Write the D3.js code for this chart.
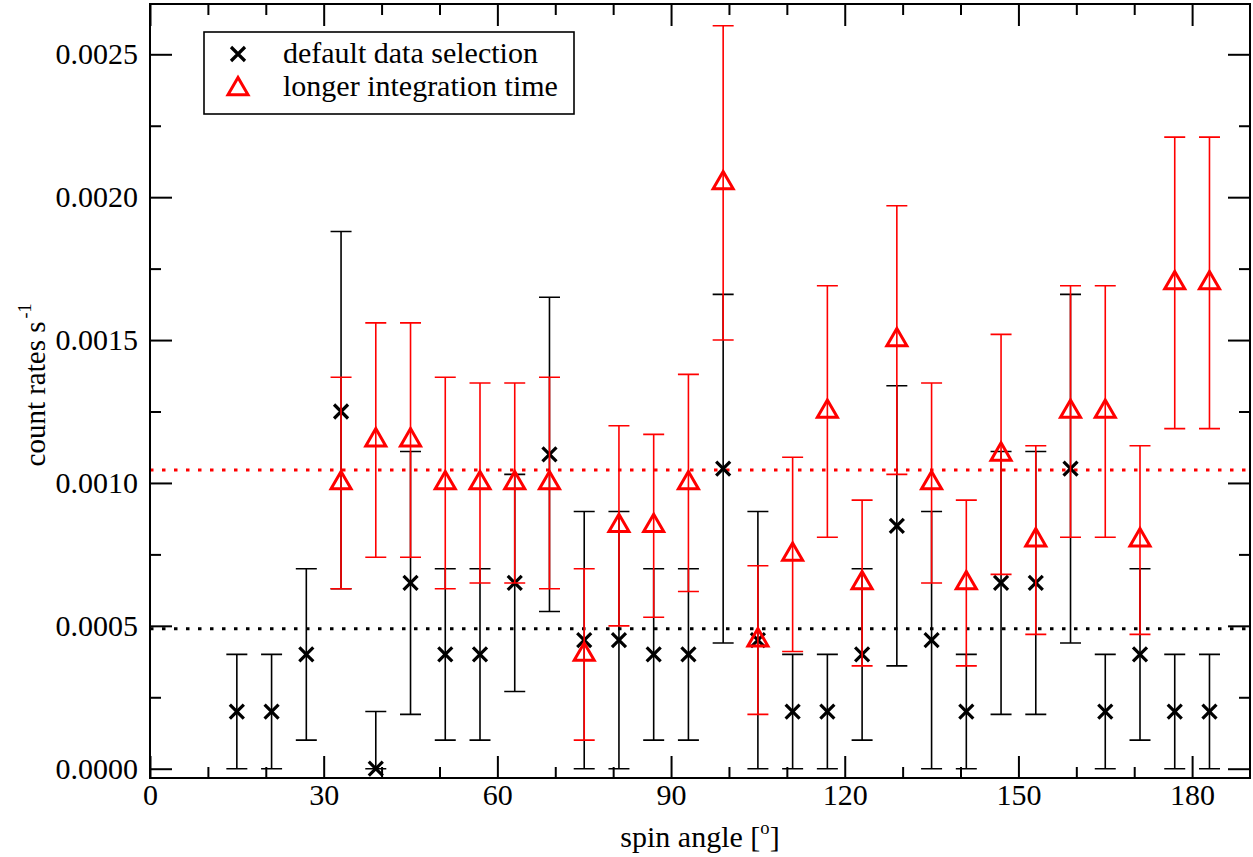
<!DOCTYPE html>
<html>
<head>
<meta charset="utf-8">
<script src="https://cdn.jsdelivr.net/npm/d3@7"></script>
<style>
  html, body { margin: 0; padding: 0; background: #fff; }
  svg { display: block; }
  text { font-family: "Liberation Serif", "Times New Roman", serif; fill: #000; }
</style>
</head>
<body>
<svg id="chart" width="1253" height="857"></svg>
<script>
// Spin angles of the bins (degrees)
const defaultAngle = [15, 21, 27, 33, 39, 45, 51, 57, 63, 69, 75, 81, 87, 93, 99,
                      105, 111, 117, 123, 129, 135, 141, 147, 153, 159, 165, 171, 177, 183];
// Default data selection: count rate and its error-bar limits (s^-1)
const defaultRate = [0.0002, 0.0002, 0.0004, 0.00125, 0.0, 0.00065, 0.0004, 0.0004, 0.00065, 0.0011,
                     0.00045, 0.00045, 0.0004, 0.0004, 0.00105, 0.00045, 0.0002, 0.0002, 0.0004, 0.00085,
                     0.00045, 0.0002, 0.00065, 0.00065, 0.00105, 0.0002, 0.0004, 0.0002, 0.0002];
const defaultLow  = [0.0, 0.0, 0.0001, 0.00063, 0.0, 0.00019, 0.0001, 0.0001, 0.00027, 0.00055,
                     0.0, 0.0, 0.0001, 0.0001, 0.00044, 0.0, 0.0, 0.0, 0.0001, 0.00036,
                     0.0, 0.0, 0.00019, 0.00019, 0.00044, 0.0, 0.0001, 0.0, 0.0];
const defaultHigh = [0.0004, 0.0004, 0.0007, 0.00188, 0.0002, 0.00111, 0.0007, 0.0007, 0.00103, 0.00165,
                     0.0009, 0.0009, 0.0007, 0.0007, 0.00166, 0.0009, 0.0004, 0.0004, 0.0007, 0.00134,
                     0.0009, 0.0004, 0.00111, 0.00111, 0.00166, 0.0004, 0.0007, 0.0004, 0.0004];

// Longer integration time
const longAngle = [33, 39, 45, 51, 57, 63, 69, 75, 81, 87, 93, 99, 105,
                   111, 117, 123, 129, 135, 141, 147, 153, 159, 165, 171, 177, 183];
const longRate = [0.001, 0.00115, 0.00115, 0.001, 0.001, 0.001, 0.001, 0.0004, 0.00085, 0.00085, 0.001, 0.00205, 0.00045,
                  0.00075, 0.00125, 0.00065, 0.0015, 0.001, 0.00065, 0.0011, 0.0008, 0.00125, 0.00125, 0.0008, 0.0017, 0.0017];
const longLow  = [0.00063, 0.00074, 0.00074, 0.00063, 0.00065, 0.00065, 0.00063, 0.0001, 0.0005, 0.00053, 0.00062, 0.0015, 0.00019,
                  0.00041, 0.00081, 0.00036, 0.00103, 0.00065, 0.00036, 0.00068, 0.00047, 0.00081, 0.00081, 0.00047, 0.00119, 0.00119];
const longHigh = [0.00137, 0.00156, 0.00156, 0.00137, 0.00135, 0.00135, 0.00137, 0.0007, 0.0012, 0.00117, 0.00138, 0.0026, 0.00071,
                  0.00109, 0.00169, 0.00094, 0.00197, 0.00135, 0.00094, 0.00152, 0.00113, 0.00169, 0.00169, 0.00113, 0.00221, 0.00221];

// Average levels of the two selections
const meanLevels = [0.00049, 0.001045];

// Axis ticks
const xMajorTicks = [0, 30, 60, 90, 120, 150, 180];
const xMinorTicks = [10, 20, 40, 50, 70, 80, 100, 110, 130, 140, 160, 170];
const yMajorTicks = [0, 0.0005, 0.001, 0.0015, 0.002, 0.0025];
const yMinorTicks = [0.00025, 0.00075, 0.00125, 0.00175, 0.00225];

const legendLabels = ["default data selection", "longer integration time"];
const seriesColors = ["#000000", "#ff0000"];

const svg = d3.select("#chart");
const plotLeft = 150, plotRight = 1250, plotTop = 4, plotBottom = 778;

const x = d3.scaleLinear().domain([0, 190]).range([plotLeft, plotRight]);
const y = d3.scaleLinear().domain([-0.0000325, 0.002676]).range([plotBottom, plotTop]);

const FONT = 30;

// Mean level dotted lines
svg.append("g").selectAll("line")
  .data(meanLevels)
  .join("line")
  .attr("x1", plotLeft).attr("x2", plotRight)
  .attr("y1", d => y(d)).attr("y2", d => y(d))
  .attr("stroke", (d, i) => seriesColors[i])
  .attr("stroke-width", 3)
  .attr("stroke-dasharray", "3.5 8.5");

function makeSeries(angle, rate, low, high) {
  return angle.map((a, i) => ({ a, v: rate[i], lo: low[i], hi: high[i] }));
}
const defaultSeries = makeSeries(defaultAngle, defaultRate, defaultLow, defaultHigh);
const longSeries = makeSeries(longAngle, longRate, longLow, longHigh);

const CAP = 10.5;

function drawErrorBars(g, data, color) {
  const eb = g.append("g").attr("stroke", color).attr("stroke-width", 1.6).attr("fill", "none");
  eb.selectAll("path")
    .data(data)
    .join("path")
    .attr("d", d => {
      const cx = x(d.a), y0 = y(d.lo), y1 = y(d.hi);
      return `M${cx},${y0}V${y1}M${cx - CAP},${y1}H${cx + CAP}M${cx - CAP},${y0}H${cx + CAP}`;
    });
}

const crossPath = "M-7,-7L7,7M-7,7L7,-7";
const triPath = "M0,-11.5L10,5.8L-10,5.8Z";

// Default selection
const gDef = svg.append("g");
drawErrorBars(gDef, defaultSeries, seriesColors[0]);
gDef.append("g").selectAll("path")
  .data(defaultSeries)
  .join("path")
  .attr("transform", d => `translate(${x(d.a)},${y(d.v)})`)
  .attr("d", crossPath)
  .attr("stroke", seriesColors[0])
  .attr("stroke-width", 3.2)
  .attr("fill", "none");

// Longer integration time
const gLong = svg.append("g");
drawErrorBars(gLong, longSeries, seriesColors[1]);
gLong.append("g").selectAll("path")
  .data(longSeries)
  .join("path")
  .attr("transform", d => `translate(${x(d.a)},${y(d.v)})`)
  .attr("d", triPath)
  .attr("stroke", seriesColors[1])
  .attr("stroke-width", 3)
  .attr("stroke-linejoin", "miter")
  .attr("fill", "none");

// Axes with inward ticks on all four sides
function styleAxis(g) {
  g.select(".domain").remove();
  g.selectAll(".tick line").attr("stroke", "#000").attr("stroke-width", 2);
  g.selectAll("text")
    .attr("font-family", "Liberation Serif, Times New Roman, serif")
    .attr("font-size", FONT)
    .attr("fill", "#000");
}

svg.append("g").attr("transform", `translate(0,${plotBottom})`)
  .call(d3.axisBottom(x).tickValues(xMajorTicks).tickSize(-22).tickSizeOuter(0).tickPadding(6).tickFormat(d3.format("d")))
  .call(styleAxis);
svg.append("g").attr("transform", `translate(0,${plotBottom})`)
  .call(d3.axisBottom(x).tickValues(xMinorTicks).tickSize(-11).tickSizeOuter(0).tickFormat(""))
  .call(styleAxis);
svg.append("g").attr("transform", `translate(0,${plotTop})`)
  .call(d3.axisTop(x).tickValues(xMajorTicks).tickSize(-22).tickSizeOuter(0).tickFormat(""))
  .call(styleAxis);
svg.append("g").attr("transform", `translate(0,${plotTop})`)
  .call(d3.axisTop(x).tickValues(xMinorTicks).tickSize(-11).tickSizeOuter(0).tickFormat(""))
  .call(styleAxis);

svg.append("g").attr("transform", `translate(${plotLeft},0)`)
  .call(d3.axisLeft(y).tickValues(yMajorTicks).tickSize(-22).tickSizeOuter(0).tickPadding(12).tickFormat(d3.format(".4f")))
  .call(styleAxis);
svg.append("g").attr("transform", `translate(${plotLeft},0)`)
  .call(d3.axisLeft(y).tickValues(yMinorTicks).tickSize(-11).tickSizeOuter(0).tickFormat(""))
  .call(styleAxis);
svg.append("g").attr("transform", `translate(${plotRight},0)`)
  .call(d3.axisRight(y).tickValues(yMajorTicks).tickSize(-22).tickSizeOuter(0).tickFormat(""))
  .call(styleAxis);
svg.append("g").attr("transform", `translate(${plotRight},0)`)
  .call(d3.axisRight(y).tickValues(yMinorTicks).tickSize(-11).tickSizeOuter(0).tickFormat(""))
  .call(styleAxis);

// Plot frame
svg.append("rect")
  .attr("x", plotLeft).attr("y", plotTop)
  .attr("width", plotRight - plotLeft).attr("height", plotBottom - plotTop)
  .attr("fill", "none").attr("stroke", "#000").attr("stroke-width", 2);

// Axis titles
const xTitle = svg.append("text")
  .attr("x", (plotLeft + plotRight) / 2).attr("y", 847)
  .attr("text-anchor", "middle").attr("font-size", FONT);
xTitle.append("tspan").text("spin angle [");
xTitle.append("tspan").attr("font-size", FONT * 0.62).attr("dy", -13).text("o");
xTitle.append("tspan").attr("dy", 13).text("]");

const yTitle = svg.append("text")
  .attr("transform", "translate(45,385) rotate(-90)")
  .attr("text-anchor", "middle").attr("font-size", 29);
yTitle.append("tspan").text("count rates s");
yTitle.append("tspan").attr("font-size", 18).attr("dx", 3).attr("dy", -14).text("-1");

// Legend
const legend = svg.append("g");
legend.append("rect")
  .attr("x", 204).attr("y", 32).attr("width", 370).attr("height", 82)
  .attr("fill", "#fff").attr("stroke", "#000").attr("stroke-width", 1.6);
const legendRows = legendLabels.map((label, i) => ({ label, i }));
legend.selectAll("path")
  .data(legendRows)
  .join("path")
  .attr("transform", d => `translate(238,${d.i === 0 ? 54 : 89})`)
  .attr("d", d => d.i === 0 ? crossPath : triPath)
  .attr("stroke", d => seriesColors[d.i])
  .attr("stroke-width", d => d.i === 0 ? 3.2 : 3)
  .attr("fill", "none");
legend.selectAll("text")
  .data(legendRows)
  .join("text")
  .attr("x", 283)
  .attr("y", d => d.i === 0 ? 63 : 96)
  .attr("font-size", FONT)
  .text(d => d.label);
</script>
</body>
</html>
